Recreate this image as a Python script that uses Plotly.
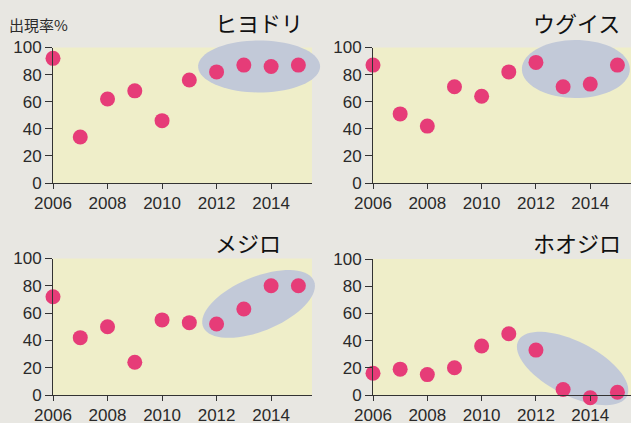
import numpy as np
import plotly.graph_objects as go

# ---- data ----
years = [2006, 2007, 2008, 2009, 2010, 2011, 2012, 2013, 2014, 2015]
hiyodori = [92, 34, 62, 68, 46, 76, 82, 87, 86, 87]   # ヒヨドリ
uguisu = [87, 51, 42, 71, 64, 82, 89, 71, 73, 87]     # ウグイス
mejiro = [72, 42, 50, 24, 55, 53, 52, 63, 80, 80]     # メジロ
hoojiro = [16, 19, 15, 20, 36, 45, 33, 4, -2, 2]      # ホオジロ
species = ["ヒヨドリ", "ウグイス", "メジロ", "ホオジロ"]
x_ticks = [2006, 2008, 2010, 2012, 2014]
y_ticks = [0, 20, 40, 60, 80, 100]
y_title = "出現率%"

series = [hiyodori, uguisu, mejiro, hoojiro]

# highlight ellipses: centre (year, value), semi-axes in px, rotation in degrees
ellipses = [
    (2013.56, 86.0, 61, 26, 0),
    (2013.47, 84.1, 54, 29, 0),
    (2013.54, 66.7, 60, 27, 22.5),
    (2013.35, 19.5, 61, 27, -27),
]

# ---- layout geometry (pixels) ----
W, H = 631, 423
panels = [(53, 312, 47.5, 183), (373, 631, 47.5, 183),
          (53, 312, 258.5, 395), (373, 631, 259, 395)]
XMIN, XMAX = 2006, 2015.5

BG = "#e8e7e2"
YELLOW = "#efeec9"
ELLIPSE = "#c2c9d8"
PINK = "#e63c78"
TXT = "#2a2a2a"

fig = go.Figure()
layout = dict(width=W, height=H, margin=dict(l=0, r=0, t=0, b=0, autoexpand=False),
              paper_bgcolor=BG, plot_bgcolor="rgba(0,0,0,0)",
              showlegend=False)
shapes = []
annotations = []

for i, (x0, x1, t, b) in enumerate(panels):
    n = i + 1          # full-size overlay subplot (marks)
    m = i + 5          # exact-size subplot (axes)
    kx = (x1 - x0) / (XMAX - XMIN)
    ky = (b - t) / 100.0
    xs = "" if n == 1 else str(n)
    # overlay axes covering whole figure, same mapping
    layout["xaxis" + xs] = dict(domain=[0, 1], visible=False, anchor="y" + xs,
                                automargin=False,
                                range=[XMIN - x0 / kx, XMIN + (W - x0) / kx])
    layout["yaxis" + xs] = dict(domain=[0, 1], visible=False, anchor="x" + xs,
                                automargin=False,
                                range=[-(H - b) / ky, 100 + t / ky])
    # real axes
    layout["xaxis" + str(m)] = dict(
        domain=[x0 / W, x1 / W], range=[XMIN, XMAX], anchor="y" + str(m),
        automargin=False,
        showline=True, linecolor="#333", linewidth=1, showgrid=False,
        zeroline=False, tickvals=x_ticks, ticks="outside", ticklen=5,
        tickcolor="#333", tickfont=dict(family="Liberation Sans", size=17, color=TXT))
    layout["yaxis" + str(m)] = dict(
        domain=[1 - b / H, 1 - t / H], range=[0, 100], anchor="x" + str(m),
        automargin=False,
        showline=True, linecolor="#333", linewidth=1, showgrid=False,
        zeroline=False, tickvals=y_ticks, ticks="outside", ticklen=7,
        tickcolor="#333", tickfont=dict(family="Liberation Sans", size=17, color=TXT))

    xr, yr = "x" + xs, "y" + xs
    shapes.append(dict(type="rect", xref=xr, yref=yr, x0=XMIN, x1=XMAX, y0=0, y1=100,
                       fillcolor=YELLOW, line=dict(width=0), layer="below"))
    cx, cy, a, bb, ang = ellipses[i]
    th = np.linspace(0, 2 * np.pi, 72)
    r = np.deg2rad(ang)
    px = a * np.cos(th) * np.cos(r) - bb * np.sin(th) * np.sin(r)
    py = a * np.cos(th) * np.sin(r) + bb * np.sin(th) * np.cos(r)
    ex = cx + px / kx
    ey = cy + py / ky
    path = "M " + " L ".join(f"{u:.4f},{v:.4f}" for u, v in zip(ex, ey)) + " Z"
    shapes.append(dict(type="path", xref=xr, yref=yr, path=path,
                       fillcolor=ELLIPSE, line=dict(width=0), layer="below"))

    fig.add_trace(go.Scatter(x=years, y=series[i], mode="markers", xaxis=xr, yaxis=yr,
                             marker=dict(size=15, color=PINK, line=dict(width=0)),
                             cliponaxis=False, hoverinfo="skip"))
    fig.add_trace(go.Scatter(x=[], y=[], xaxis="x" + str(m), yaxis="y" + str(m),
                             hoverinfo="skip"))

title_pos = [(213, 22), (531, 22), (213, 242), (531, 242)]
for (tx, ty), name in zip(title_pos, species):
    annotations.append(dict(text=name, xref="paper", yref="paper", x=tx / W, y=1 - ty / H,
                            xanchor="left", yanchor="middle", showarrow=False,
                            font=dict(family="Noto Sans CJK JP", size=22, color="#111")))
annotations.append(dict(text=y_title, xref="paper", yref="paper", x=7 / W, y=1 - 25 / H,
                        xanchor="left", yanchor="middle", showarrow=False,
                        font=dict(family="Noto Sans CJK JP", size=15, color=TXT)))

layout["shapes"] = shapes
layout["annotations"] = annotations
fig.update_layout(**layout)
fig.write_html("out.html", config={"displayModeBar": False},
               post_script="document.body.style.margin='0';document.body.style.overflow='hidden';")
